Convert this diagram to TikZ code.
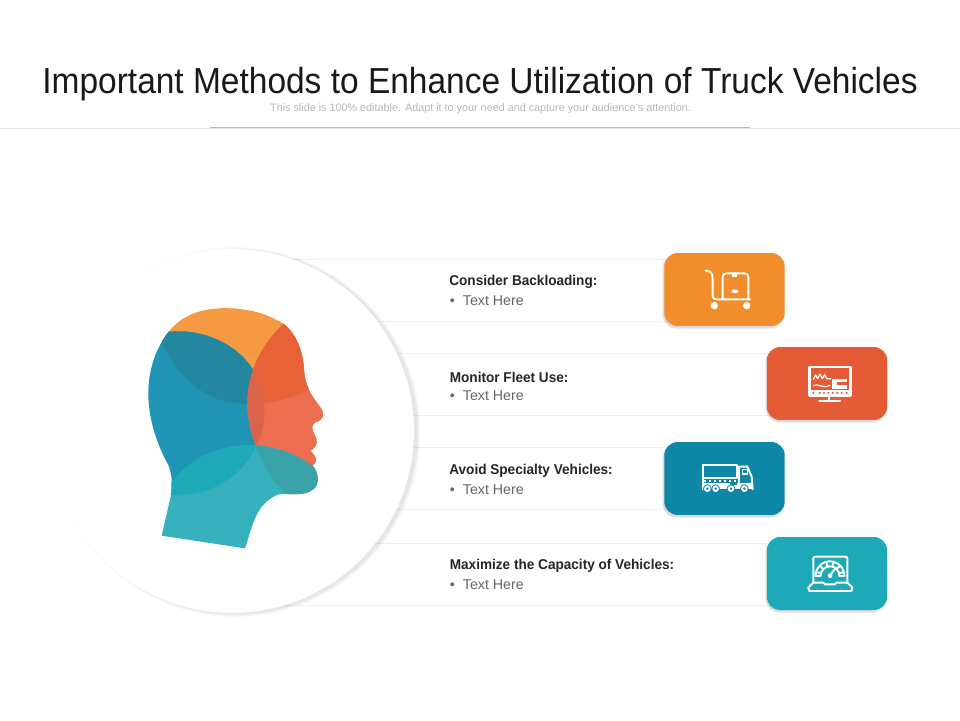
\documentclass[tikz,border=0pt]{standalone}
\usepackage{fontspec}
\setmainfont{Liberation Sans}
\newfontfamily\titlefont[FakeStretch=0.925]{Liberation Sans}
\newfontfamily\labelfont[FakeStretch=0.955]{Liberation Sans}
\usetikzlibrary{positioning}

\definecolor{cOrange}{HTML}{F28D2B}
\definecolor{cRed}{HTML}{E55B35}
\definecolor{cBlue}{HTML}{0E86A6}
\definecolor{cTeal}{HTML}{1DA9B7}

% head pieces, in the coordinates of the head scope
\def\headpath{(95,737) -- (345,775) .. controls (365,720) and (375,635) .. (450,612) .. controls (490,612) and (565,622) .. (563,565) .. controls (562,548) and (556,535) .. (548,526) .. controls (562,518) and (564,505) .. (542,482) .. controls (565,470) and (565,450) .. (553,432) .. controls (545,418) and (545,405) .. (555,398) .. controls (585,388) and (585,370) .. (570,350) .. controls (540,310) and (525,285) .. (522,240) .. controls (518,160) and (480,105) .. (440,90) .. controls (370,50) and (240,40) .. (170,80) .. controls (110,110) and (55,200) .. (55,310) .. controls (55,400) and (90,480) .. (115,525) .. controls (130,560) and (125,600) .. (122,620) -- cycle}
\def\lobeorange{(90,140) .. controls (130,260) and (240,345) .. (340,340) .. controls (420,345) and (490,325) .. (540,295) -- (620,0) -- (60,0) -- cycle}
\def\lobeblue{(120,125) .. controls (240,115) and (340,180) .. (375,250) .. controls (410,320) and (415,400) .. (378,468) .. controls (340,560) and (230,625) .. (120,615) -- (0,615) -- (0,100) -- cycle}
\def\lobered{(480,85) .. controls (400,150) and (352,240) .. (352,340) .. controls (352,430) and (400,550) .. (470,612) -- (700,650) -- (700,50) -- cycle}
\def\lobeteal{(110,600) .. controls (170,500) and (280,460) .. (378,466) .. controls (450,470) and (530,505) .. (570,550) -- (600,800) -- (50,800) -- cycle}

\tikzset{
  rowband/.style={rectangle, draw=black!6, fill=white, line width=0.55pt, inner sep=0pt, minimum height=1.24cm},
  iconbox/.style={rectangle, rounded corners=0.27cm, inner sep=0pt, minimum width=2.41cm, minimum height=1.46cm},
  headlabel/.style={anchor=west, inner sep=0pt, font=\labelfont\fontsize{8.1}{10}\selectfont\bfseries, text=black!85},
  bodylabel/.style={anchor=west, inner sep=0pt, font=\fontsize{8.1}{10}\selectfont, text=black!60},
  iconline/.style={draw=white, line width=1.1pt, line cap=round, line join=round},
  iconfill/.style={fill=white},
  zoomtwo/.style={shift={(650,240)}, x=0.00667cm, y=-0.00667cm},
  zoomthree/.style={shift={(650,430)}, x=0.00667cm, y=-0.00667cm}
}

\begin{document}
\begin{tikzpicture}[x=0.02cm, y=-0.02cm]
\useasboundingbox (0,0) rectangle (960,720);
\fill[white] (0,0) rectangle (960,720);

% title
\node[inner sep=0pt, font=\titlefont\fontsize{20.6}{24}\selectfont, text=black!90] (title) at (480,84) {Important Methods to Enhance Utilization of Truck Vehicles};
\node[inner sep=0pt, font=\fontsize{6.15}{8}\selectfont, text=black!28] (subtitle) at (480.5,109) {This slide is 100\% editable. Adapt it to your need and capture your audience's attention.};
\coordinate (ruleL) at (0,128.5);
\coordinate (ruleR) at (960,128.5);
\coordinate (barL) at (210,127.5);
\coordinate (barR) at (750,127.5);
\draw[black!10, line width=0.6pt] (ruleL) -- (ruleR);
\draw[black!27, line width=1.1pt] (barL) -- (barR);

% rows behind the circle
\node[rowband, minimum width=9.8cm] (row1) at (475,290) {};
\node[rowband, minimum width=12cm] (row2) at (530,384) {};
\node[rowband, minimum width=9.8cm] (row3) at (475,478) {};
\node[rowband, minimum width=12cm] (row4) at (530,574) {};

% big circle
\foreach \r in {3.64,3.655,3.67,3.685,3.70}
  \fill[black, opacity=0.02] (235.5,432) circle (\r cm);
\node[circle, fill=white, inner sep=0pt, minimum size=7.28cm] (disc) at (232,431) {};

% head
\begin{scope}[shift={(130,290)}, x=0.00667cm, y=-0.00667cm]
\begin{scope}
\clip \headpath;
\fill[white] \headpath;
\fill[color={rgb,255:red,245;green,154;blue,66}] \lobeorange;
\fill[color={rgb,255:red,32;green,148;blue,180}] \lobeblue;
\fill[color={rgb,255:red,235;green,110;blue,80}] \lobered;
\fill[color={rgb,255:red,53;green,176;blue,188}] \lobeteal;
\begin{scope}\clip \lobeorange; \fill[color={rgb,255:red,35;green,136;blue,159}] \lobeblue; \end{scope}
\begin{scope}\clip \lobeorange; \fill[color={rgb,255:red,232;green,98;blue,56}] \lobered; \end{scope}
\begin{scope}\clip \lobeblue; \fill[color={rgb,255:red,217;green,100;blue,74}] \lobered; \end{scope}
\begin{scope}\clip \lobeteal; \fill[color={rgb,255:red,30;green,169;blue,183}] \lobeblue; \end{scope}
\begin{scope}\clip \lobeteal; \fill[color={rgb,255:red,58;green,163;blue,170}] \lobered; \end{scope}
\end{scope}
\end{scope}

% icon boxes
\foreach \dx/\dy in {-2/2,-1/2,-1/3,0/3,-2/1}{
  \fill[black, opacity=0.03, rounded corners=0.27cm] (664+\dx,253+\dy) rectangle (785+\dx,326+\dy);
  \fill[black, opacity=0.03, rounded corners=0.27cm] (767+\dx,347+\dy) rectangle (887+\dx,420+\dy);
  \fill[black, opacity=0.03, rounded corners=0.27cm] (664+\dx,442+\dy) rectangle (785+\dx,515+\dy);
  \fill[black, opacity=0.03, rounded corners=0.27cm] (767+\dx,537+\dy) rectangle (887+\dx,610+\dy);
}
\node[iconbox, fill=cOrange] (box1) at (724.5,289.5) {};
\node[iconbox, fill=cRed] (box2) at (827,383.5) {};
\node[iconbox, fill=cBlue] (box3) at (724.5,478.5) {};
\node[iconbox, fill=cTeal] (box4) at (827,573.5) {};

% labels
\node[headlabel] (head1) at (449,282) {Consider Backloading:};
\node[headlabel] (head2) at (449.5,377) {Monitor Fleet Use:};
\node[headlabel] (head3) at (449,471) {Avoid Specialty Vehicles:};
\node[headlabel] (head4) at (449.5,566) {Maximize the Capacity of Vehicles:};
\node[bodylabel] (text1) at (449.5,301) {\textbullet\hspace{4.6pt}Text Here};
\node[bodylabel] (text2) at (449.5,396) {\textbullet\hspace{4.6pt}Text Here};
\node[bodylabel] (text3) at (449.5,490) {\textbullet\hspace{4.6pt}Text Here};
\node[bodylabel] (text4) at (449.5,585) {\textbullet\hspace{4.6pt}Text Here};

% cart
\begin{scope}[zoomtwo]
\draw[iconline] (167,92) .. controls (182,92) and (188,100) .. (188,118) -- (188,165) .. controls (188,175) and (192,178) .. (200,178) -- (300,178);
\draw[iconline] (218,178) -- (218,112) .. controls (218,104) and (222,100) .. (230,100) -- (283,100) .. controls (291,100) and (295,104) .. (295,112) -- (295,178);
\fill[iconfill] (245,100) rectangle (262,112);
\fill[iconfill, rounded corners=1pt] (243,149) rectangle (266,159);
\fill[iconfill] (193,197) circle (11);
\fill[iconfill] (290,197) circle (11);
% monitor
\draw[iconline, line width=1.4pt] (479,381) rectangle (601,467);
\fill[iconfill] (479,450) rectangle (601,468);
\draw[iconline, line width=1.3pt] (538,467) -- (538,480);
\draw[iconline, line width=1.4pt] (508,483) -- (570,483);
\fill[iconfill] (545,418) rectangle (592,447);
\fill[cRed] (562,427) rectangle (590,436);
\draw[iconline, line width=0.7pt] (490,418) -- (497,405) -- (503,416) -- (510,402) -- (517,416) -- (524,404) -- (530,416) -- (542,416);
\draw[iconline, line width=0.7pt] (490,437) .. controls (505,428) and (515,448) .. (540,436);
\foreach \px in {490,510,522,535,548,562,575,590}
  \fill[cRed] (\px,459) circle (3.5);
\end{scope}

% truck
\begin{scope}[zoomthree]
\draw[iconline] (158,105) rectangle (262,143);
\draw[iconline] (268,110) -- (292,110) -- (305,140) -- (308,178);
\draw[iconline] (268,110) -- (268,160);
\draw[iconline] (158,143) -- (158,178);
\fill[iconfill] (158,160) rectangle (308,178);
\foreach \sx in {165,180,195,210,225,240,255}
  \fill[iconfill] (\sx-4,149) rectangle (\sx+4,155);
\fill[iconfill] (275,116) rectangle (294,135);
\fill[cBlue] (280,121) rectangle (290,130);
\fill[cBlue] (240,160) rectangle (262,166);
\foreach \wx in {172,197,243,283}{
  \fill[cBlue] (\wx,176) circle (13);
  \fill[iconfill] (\wx,176) circle (10);
  \fill[cBlue] (\wx,176) circle (4);
}
% laptop
\draw[iconline] (490,458) -- (490,386) .. controls (490,382) and (492,380) .. (496,380) -- (586,380) .. controls (590,380) and (592,382) .. (592,386) -- (592,458);
\draw[iconline] (497,437) arc (180:360:43);
\draw[iconline] (512,437) arc (180:360:28);
\foreach \ang in {15,45,75,105,135,165}
  \draw[iconline] ({540+30*cos(\ang)},{437-30*sin(\ang)}) -- ({540+40*cos(\ang)},{437-40*sin(\ang)});
\draw[iconline] (497,437) -- (512,437);
\draw[iconline] (568,437) -- (583,437);
\draw[iconline] (540,437) -- (558,412);
\fill[iconfill] (540,437) circle (7);
\draw[iconline] (490,458) -- (475,472) -- (478,483) -- (604,483) -- (607,472) -- (592,458) -- (560,458) -- (555,463) -- (525,463) -- (520,458) -- cycle;
\end{scope}

\end{tikzpicture}
\end{document}
